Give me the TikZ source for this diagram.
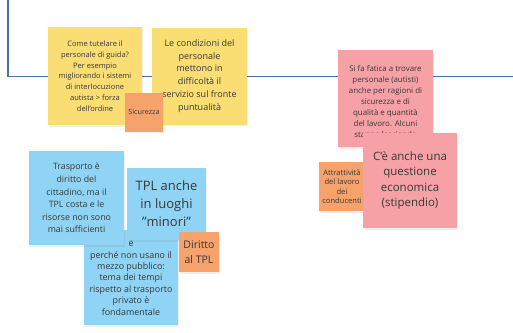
\documentclass[tikz,border=0pt]{standalone}
\usepackage{fontspec}
\setmainfont{Open Sans}[Ligatures=NoCommon]
\usetikzlibrary{shadows}
\definecolor{frameblue}{HTML}{4A6FAE}
\definecolor{styellow}{HTML}{FADE74}
\definecolor{storange}{HTML}{F6A26C}
\definecolor{stpink}{HTML}{F6A1A5}
\definecolor{stblue}{HTML}{8FD4F5}
\definecolor{txt}{HTML}{383838}
\tikzset{
  sticky/.style={rectangle, inner sep=0pt, outer sep=0pt, align=center, text=txt,
    drop shadow={opacity=0.12, shadow xshift=0.6pt, shadow yshift=-1.5pt}},
  tag/.style={sticky, fill=storange},
  plaintext/.style={inner sep=0pt, align=center, text=txt},
}
\begin{document}
\begin{tikzpicture}[x=1pt,y=-1pt]
\useasboundingbox[fill=white] (0,0) rectangle (513,332);
% frame line
\coordinate (ftop) at (8,0);
\coordinate (fcorner) at (8,76.5);
\coordinate (fright) at (513,76.5);
\draw[frameblue, line width=1.4pt] (ftop) -- (fcorner) -- (fright);

% yellow
\node[sticky, fill=styellow, minimum width=94, minimum height=98,
  font=\fontsize{7.5}{10.8}\selectfont] (y1) at (95,76)
  {Come tutelare il\\personale di guida?\\Per esempio\\migliorando i sistemi\\di interlocuzione\\autista > forza\\dell\char"27 ordine};
\node[sticky, fill=styellow, minimum width=95, minimum height=97,
  font=\fontsize{9}{12.7}\selectfont] (y2) at (199.5,76)
  {Le condizioni del\\personale\\mettono in\\difficoltà il\\servizio sul fronte\\puntualità};
\node[tag, minimum width=38, minimum height=39,
  font=\fontsize{7.2}{9}\selectfont] (sic) at (144,112.2) {Sicurezza};

% pink
\node[sticky, fill=stpink, minimum width=95, minimum height=97] (p1) at (385.5,98.5) {};
\node[plaintext, font=\fontsize{7.9}{11.1}\selectfont] (p1t) at (385.5,101.5)
  {Si fa fatica a trovare\\personale (autisti)\\anche per ragioni di\\sicurezza e di\\qualità e quantità\\del lavoro. Alcuni\\stanno lasciando};
\node[tag, minimum width=46, minimum height=49,
  font=\fontsize{7.6}{9.5}\selectfont] (attr) at (342,186.5)
  {Attrattività\\del lavoro\\dei\\conducenti};
\node[sticky, fill=stpink, minimum width=94, minimum height=95,
  font=\fontsize{11.5}{15.3}\selectfont] (p2) at (410,180.5)
  {C\char"27 è anche una\\questione\\economica\\(stipendio)};

% blue
\node[sticky, fill=stblue, minimum width=94, minimum height=95,
  font=\fontsize{8.9}{11.4}\selectfont] (b3) at (131,277.5)
  {è\\perché non usano il\\mezzo pubblico:\\tema dei tempi\\rispetto al trasporto\\privato è\\fondamentale};
\node[sticky, fill=stblue, minimum width=95, minimum height=94,
  font=\fontsize{8.8}{12.6}\selectfont] (b1) at (76.5,198)
  {Trasporto è\\diritto del\\cittadino, ma il\\TPL costa e le\\risorse non sono\\mai sufficienti};
\node[sticky, fill=stblue, minimum width=79, minimum height=72,
  font=\fontsize{13}{18}\selectfont] (b2) at (166.5,204)
  {TPL anche\\in luoghi\\\char"22 minori\char"22};
\node[tag, minimum width=40, minimum height=40,
  font=\fontsize{10.5}{15}\selectfont] (dir) at (199,252)
  {Diritto\\al TPL};
\end{tikzpicture}
\end{document}
